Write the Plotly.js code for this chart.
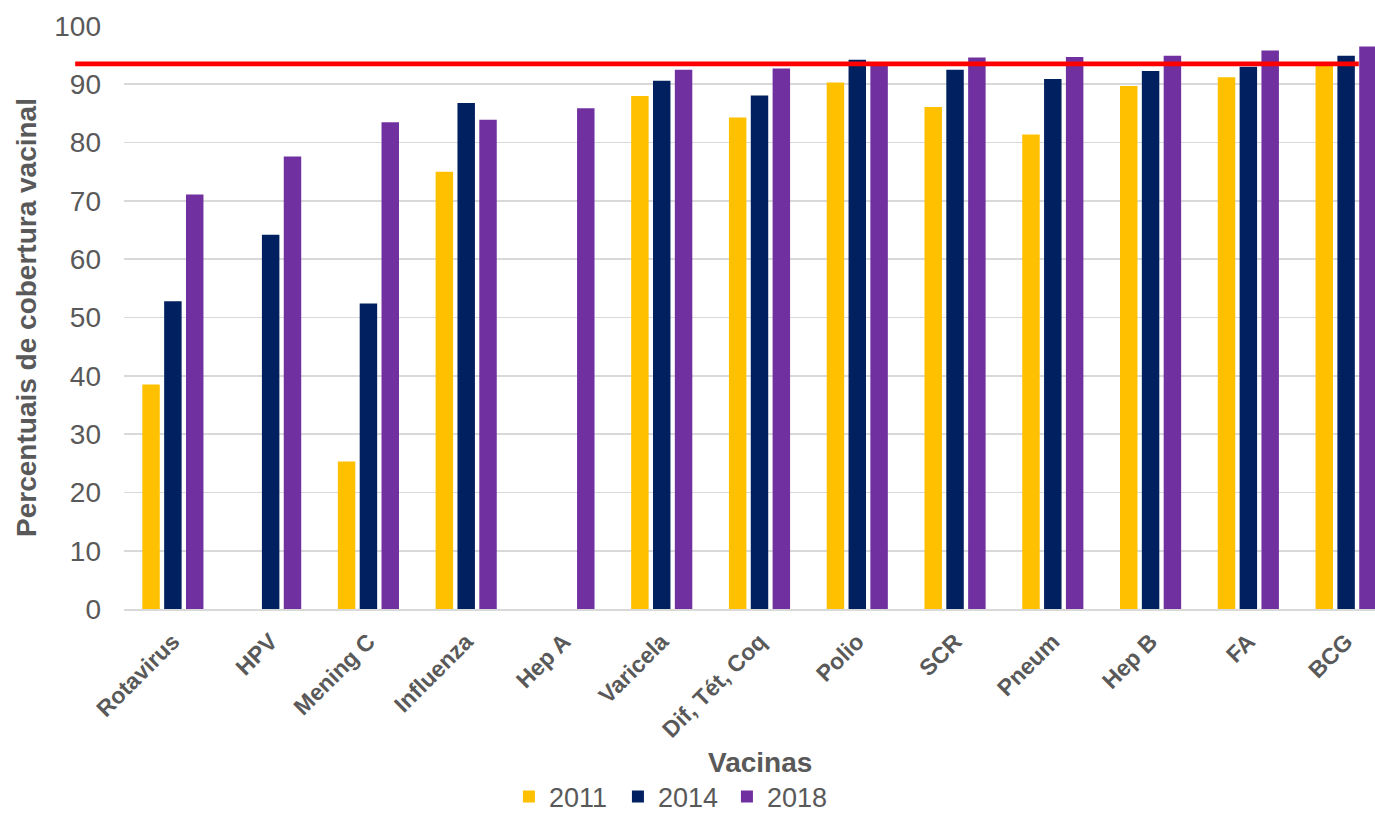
<!DOCTYPE html>
<html>
<head>
<meta charset="utf-8">
<script src="https://cdn.plot.ly/plotly-3.0.1.min.js"></script>
<style>
  html, body { margin: 0; padding: 0; overflow: hidden; background: #ffffff; }
  #chart { width: 1400px; height: 813px; }
</style>
</head>
<body>
<div id="chart"></div>
<script>
// Vaccine coverage (%) by vaccine and year
const vacinas = ["Rotavirus", "HPV", "Mening C", "Influenza", "Hep A", "Varicela",
                 "Dif, Tét, Coq", "Polio", "SCR", "Pneum", "Hep B", "FA", "BCG"];

const cobertura2011 = [38.5, null, 25.3, 75.0, null, 88.0, 84.3, 90.3, 86.1, 81.4, 89.7, 91.2, 93.6];
const cobertura2014 = [52.8, 64.2, 52.4, 86.8, null, 90.6, 88.1, 94.2, 92.5, 90.9, 92.3, 93.0, 94.9];
const cobertura2018 = [71.1, 77.6, 83.5, 83.9, 85.9, 92.5, 92.7, 93.7, 94.6, 94.7, 94.9, 95.8, 96.5];

// Reference coverage level drawn as a horizontal line
const metaCobertura = 93.5;

const yTicks = [0, 10, 20, 30, 40, 50, 60, 70, 80, 90, 100];

const FONT = "Liberation Sans, Arial, sans-serif";
const GREY = "#595959";

function serie(nome, valores, cor) {
  return {
    type: "bar",
    name: nome,
    x: vacinas,
    y: valores,
    marker: { color: cor },
    hoverinfo: "skip"
  };
}

const data = [
  serie("2011", cobertura2011, "#FFC000"),
  serie("2014", cobertura2014, "#002060"),
  serie("2018", cobertura2018, "#7030A0")
];

const layout = {
  width: 1400,
  height: 813,
  margin: { l: 124, r: 5, t: 26, b: 204, autoexpand: false },
  paper_bgcolor: "#ffffff",
  plot_bgcolor: "#ffffff",
  barmode: "group",
  bargap: 0.33,
  bargroupgap: 0.2,
  font: { family: FONT, color: GREY },
  xaxis: {
    type: "category",
    tickangle: -45,
    tickfont: { family: FONT, size: 23, color: GREY, weight: "bold" },
    ticks: "",
    ticklabelstandoff: 8,
    showgrid: false,
    showline: true,
    linecolor: "#d9d9d9",
    linewidth: 2,
    automargin: false
  },
  yaxis: {
    range: [0, 100],
    tickvals: yTicks,
    ticktext: yTicks.map(String),
    tickfont: { family: FONT, size: 28, color: GREY },
    ticks: "",
    ticklabelstandoff: 22,
    showgrid: true,
    gridcolor: "#d9d9d9",
    gridwidth: 1.7,
    zeroline: false,
    showline: false,
    automargin: false,
    title: {
      text: "<b>Percentuais de cobertura vacinal</b>",
      font: { family: FONT, size: 28, color: GREY },
      standoff: 9
    }
  },
  annotations: [{
    text: "<b>Vacinas</b>",
    xref: "paper",
    yref: "paper",
    x: 0.5,
    y: -0.264,
    xanchor: "center",
    yanchor: "middle",
    showarrow: false,
    font: { family: FONT, size: 28, color: GREY }
  }],
  showlegend: true,
  legend: {
    orientation: "h",
    xref: "paper",
    x: 0.4315,
    xanchor: "center",
    yref: "container",
    y: 0.0197,
    yanchor: "middle",
    entrywidth: 64,
    entrywidthmode: "pixels",
    font: { family: FONT, size: 27, color: GREY },
    bgcolor: "rgba(0,0,0,0)"
  },
  shapes: [{
    type: "line",
    xref: "paper",
    yref: "y",
    x0: -0.0384,
    x1: 0.9715,
    y0: metaCobertura,
    y1: metaCobertura,
    layer: "above",
    line: { color: "#FF0000", width: 4.7 }
  }]
};

Plotly.newPlot("chart", data, layout, { staticPlot: true, displayModeBar: false });
</script>
</body>
</html>
